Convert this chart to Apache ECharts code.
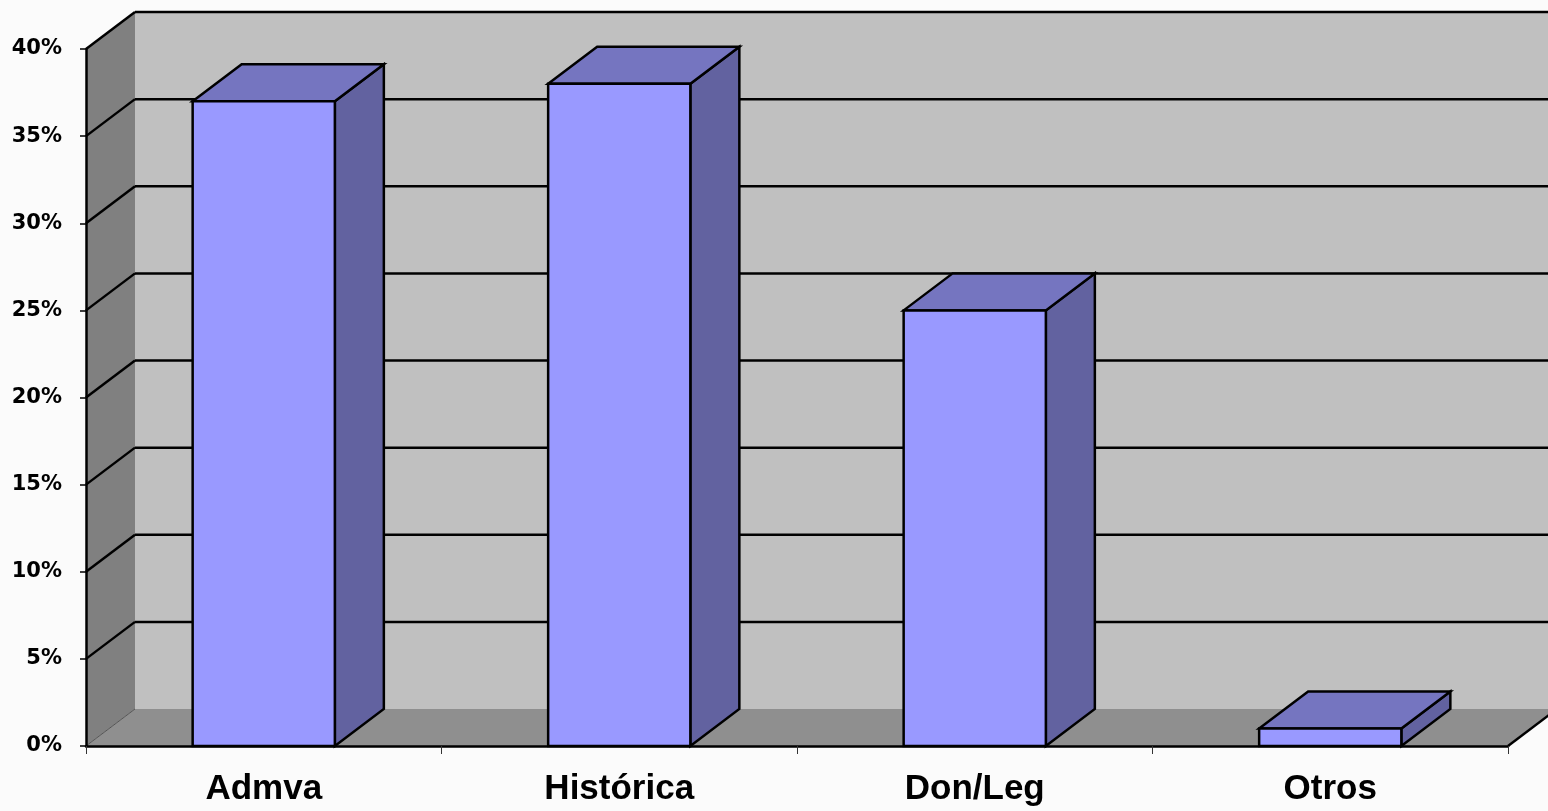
<!DOCTYPE html>
<html>
<head>
<meta charset="utf-8">
<script src="https://cdn.jsdelivr.net/npm/echarts@6/dist/echarts.min.js"></script>
<style>
  html, body { margin: 0; padding: 0; background: #fbfbfb; }
  #chart { width: 1548px; height: 811px; }
</style>
</head>
<body>
<div id="chart"></div>
<script>
  // datos
  var categories = ['Admva', 'Histórica', 'Don/Leg', 'Otros'];
  var values = [0.37, 0.38, 0.25, 0.01];
  var yTicks = [0, 0.05, 0.10, 0.15, 0.20, 0.25, 0.30, 0.35, 0.40];

  // profundidad 3D en px
  var DX = 49, DY = -37;

  var chart = echarts.init(document.getElementById('chart'));

  function wallsItem(params, api) {
    var cs = params.coordSys;
    var x0 = cs.x, x1 = cs.x + cs.width, top = cs.y, bot = cs.y + cs.height;
    return {
      type: 'group',
      children: [
        {type: 'rect', shape: {x: x0 + DX, y: top + DY, width: cs.width + 60, height: cs.height}, style: {fill: '#c0c0c0'}},
        {type: 'polygon', shape: {points: [[x0, top], [x0 + DX, top + DY], [x0 + DX, bot + DY], [x0, bot]]}, style: {fill: '#808080'}},
        {type: 'polygon', shape: {points: [[x0, bot], [x1, bot], [x1 + DX, bot + DY], [x0 + DX, bot + DY]]}, style: {fill: '#8f8f8f'}},
        {type: 'line', shape: {x1: x1, y1: bot, x2: x1 + DX, y2: bot + DY}, style: {stroke: '#000', lineWidth: 2.5}}
      ]
    };
  }

  function gridItem(params, api) {
    var cs = params.coordSys;
    var x0 = cs.x, x1 = cs.x + cs.width;
    var v = api.value(1);
    var y = api.coord([0, v])[1];
    var zero = v === 0;
    var st = {stroke: zero ? '#555' : '#000', lineWidth: zero ? 1 : 2.5};
    var children = [
      {type: 'line', shape: {x1: x0, y1: y, x2: x0 + DX, y2: y + DY}, style: st}
    ];
    if (!zero) {
      children.push({type: 'line', shape: {x1: x0 + DX, y1: y + DY, x2: x1 + DX + 60, y2: y + DY}, style: st});
    }
    return {type: 'group', children: children};
  }

  function barItem(params, api) {
    var idx = api.value(0);
    var base = api.coord([idx, 0]);
    var topP = api.coord([idx, api.value(1)]);
    var w = api.size([1, 0])[0] * 0.4;
    var xl = base[0] - w / 2, xr = base[0] + w / 2;
    var yb = base[1], yt = topP[1];
    var line = {stroke: '#000', lineWidth: 2.5, lineJoin: 'miter'};
    return {
      type: 'group',
      children: [
        {type: 'polygon', shape: {points: [[xr, yt], [xr + DX, yt + DY], [xr + DX, yb + DY], [xr, yb]]},
          style: Object.assign({fill: '#6262a0'}, line)},
        {type: 'polygon', shape: {points: [[xl, yt], [xr, yt], [xr + DX, yt + DY], [xl + DX, yt + DY]]},
          style: Object.assign({fill: '#7575c0'}, line)},
        {type: 'rect', shape: {x: xl, y: yt, width: w, height: yb - yt},
          style: Object.assign({fill: '#9999ff'}, line)}
      ]
    };
  }

  var option = {
    backgroundColor: '#fbfbfb',
    animation: false,
    grid: {left: 86, right: 40, top: 49, bottom: 65},
    xAxis: {
      type: 'category',
      data: categories,
      z: 10,
      axisLine: {lineStyle: {color: '#000', width: 2.5}},
      axisTick: {show: true, length: 8, lineStyle: {color: '#333', width: 1}},
      axisLabel: {
        color: '#000', fontFamily: 'Liberation Sans, Arial, sans-serif',
        fontWeight: 'bold', fontSize: 35, margin: 26
      },
      splitLine: {show: false}
    },
    yAxis: {
      type: 'value',
      min: 0, max: 0.4, interval: 0.05,
      z: 10,
      axisLine: {show: true, lineStyle: {color: '#000', width: 2.5}},
      axisTick: {show: true, length: 6, lineStyle: {color: '#000', width: 1.5}},
      axisLabel: {
        color: '#000', fontFamily: 'DejaVu Sans, sans-serif',
        fontWeight: 'bold', fontSize: 21, margin: 24,
        formatter: function (v) { return Math.round(v * 100) + '%'; }
      },
      splitLine: {show: false}
    },
    series: [
      {type: 'custom', z: 1, silent: true, data: [[0, 0]], renderItem: wallsItem},
      {type: 'custom', z: 2, silent: true, data: yTicks.map(function (v) { return [0, v]; }), renderItem: gridItem},
      {type: 'custom', z: 3, data: values.map(function (v, i) { return [i, v]; }), renderItem: barItem}
    ]
  };

  chart.setOption(option);
</script>
</body>
</html>
